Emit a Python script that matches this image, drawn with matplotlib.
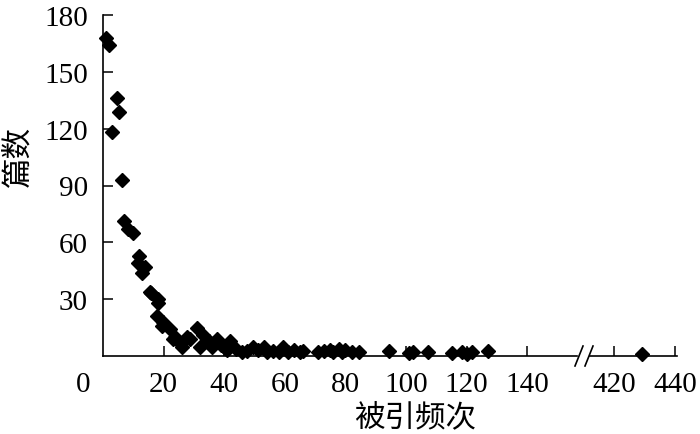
import matplotlib
matplotlib.use("Agg")
import matplotlib.pyplot as plt
from matplotlib.lines import Line2D
from matplotlib.transforms import offset_copy

plt.rcParams['font.family'] = ['Liberation Serif', 'Noto Sans CJK SC']

# citation count vs number of papers
cites = [1, 2, 3, 4.6, 5.3, 6.3,
         6.8, 8.3, 9.9, 11.9, 11.6, 13.9, 12.9,
         15.5, 16, 18, 18.2, 17.8, 19.8, 19.5, 22, 23.8, 25.4, 23, 26,
         27.7, 31, 28.7, 33, 32, 35, 37.6, 36, 39, 42, 40, 41,
         44, 46, 47.5, 49.5, 51, 53, 54, 56, 58, 59.4, 61, 63, 65, 66,
         71, 73, 75, 76, 78, 79, 80, 82, 84.5,
         94.4, 101, 102.3, 107.3, 115.2, 118.5, 120, 121.8, 127,
         429]
papers = [168, 164, 118, 136, 129, 93,
          71, 67, 65, 53, 49, 47, 44,
          34, 33, 30, 28, 21, 18, 16, 14, 10, 7, 9, 5,
          10, 15, 9, 11, 5, 8, 9, 5, 6, 8, 5, 3,
          3.5, 2, 2.5, 5, 3, 4.5, 2, 2.5, 2, 5, 2, 3, 2, 2.5,
          2, 2.5, 3, 2, 3.5, 2, 3, 2, 2,
          2.5, 1.5, 2, 2, 1.5, 2, 1, 2, 2.5,
          1]
left_ticks = [20, 40, 60, 80, 100, 120, 140]
right_ticks = [420, 440]
y_ticks = [30, 60, 90, 120, 150, 180]

fig = plt.figure(figsize=(7, 4.35), dpi=100)
W, H = 700, 435
bottom = (H - 357) / H
height = (357 - 16) / H
ax1 = fig.add_axes([103 / W, bottom, (577 - 103) / W, height])
ax2 = fig.add_axes([590 / W, bottom, (677 - 590) / W, height], sharey=ax1)

for ax in (ax1, ax2):
    ax.plot(cites, papers, linestyle='none', marker='D', ms=7,
            color='black', clip_on=False, zorder=3)
    ax.spines['top'].set_visible(False)
    ax.spines['right'].set_visible(False)
    for s in ax.spines.values():
        s.set_linewidth(1.2)
    ax.tick_params(direction='in', length=7, width=1.1, labelsize=21, pad=11)

ax1.set_xlim(0, 156.4)
ax2.set_xlim(411.95, 440.66)
ax1.set_ylim(0, 180)
ax1.set_xticks(left_ticks)
ax2.set_xticks(right_ticks)
ax1.set_yticks(y_ticks)
ax1.tick_params(axis='y', pad=11)
ax2.spines['left'].set_visible(False)
ax2.tick_params(axis='y', left=False, labelleft=False)

# lone "0" at the corner
ax1.text(0, 0, '0', fontsize=21, ha='center', va='top',
         transform=offset_copy(ax1.transData, fig=fig, x=-20, y=-11 * 100 / 72, units='dots'))

# axis break marks
for x0 in (575, 585):
    fig.add_artist(Line2D([x0 / W, (x0 + 8) / W], [(H - 367) / H, (H - 347) / H],
                          color='black', lw=1.2, transform=fig.transFigure))

fig.text(415 / W, (H - 418) / H, '被引频次', fontsize=22, ha='center', va='center',
         family=['Noto Sans CJK SC'])
fig.text(18 / W, (H - 157) / H, '篇数', fontsize=22, ha='center', va='center',
         rotation=90, family=['Noto Sans CJK SC'])

fig.savefig('out.png', dpi=100)
